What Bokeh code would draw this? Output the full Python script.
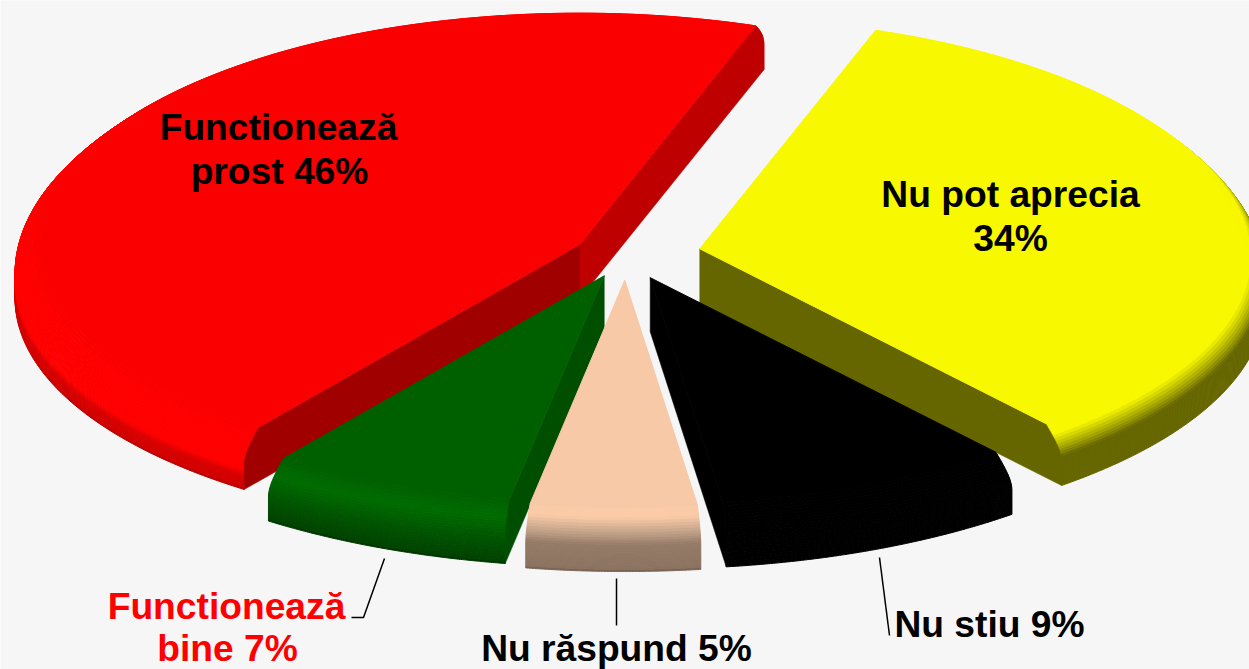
import numpy as np
from bokeh.plotting import figure
from bokeh.embed import file_html
from bokeh.resources import INLINE
from bokeh.core.properties import value

categories = ["Nu pot aprecia", "Nu stiu", "Nu răspund", "Functionează bine", "Functionează prost"]
shares = [34, 9, 5, 7.4, 45.6]
explode = [75, 60, 61, 55, 52]

top_colors = ["#F8F800", "#000000", "#F7C9A6", "#006000", "#FA0000"]
wall_start = ["#666600", "#000000", "#F7C9A6", "#004E00", "#A00000"]
wall_end = ["#666600", "#000000", "#F7C9A6", "#004E00", "#BF0000"]
band_stops = [
    [(0, "#F8F800"), (0.14, "#F8F800"), (0.46, "#666600"), (1, "#666600")],
    [(0, "#000000"), (1, "#000000")],
    [(0, "#FACBA6"), (0.12, "#FACBA6"), (0.3, "#C7A68C"), (0.5, "#957B67"), (0.95, "#8C7360"), (1, "#6E5A4C")],
    [(0, "#006000"), (0.2, "#006C00"), (0.55, "#005400"), (0.95, "#004200"), (1, "#003000")],
    [(0, "#FA0000"), (0.15, "#FF0000"), (0.62, "#FF0000"), (0.74, "#D80000"), (0.96, "#D00000"), (1, "#A80000")],
]

label_lines = ["Functionează", "prost 46%", "Nu pot aprecia", "34%", "Functionează", "bine 7%", "Nu răspund 5%", "Nu stiu 9%"]
label_x = [278, 279, 1010, 1010, 226, 227, 616, 989]
label_y = [126, 170, 193, 237, 605, 647, 647, 623]
label_colors = ["#000000", "#000000", "#000000", "#000000", "#FF0000", "#FF0000", "#000000", "#000000"]

leaders_x = [[384, 363, 351], [616, 616], [879, 889]]
leaders_y = [[558, 617, 617], [578, 625], [557, 635]]

# pie projection
CX, CY, R, H, D, START = 625.5, 254, 540, 54, 25, 19


def K(a):
    return 0.424 + 0.004 * np.cos(a)


def hexmix(stops, t):
    ts = [s[0] for s in stops]
    rgb = [[int(s[1][i:i + 2], 16) for s in stops] for i in (1, 3, 5)]
    return "#%02X%02X%02X" % tuple(int(round(np.interp(t, ts, c))) for c in rgb)


def profile(t):
    rad = R + D * np.sin(np.pi / 2 * min(t / 0.55, 1))
    return rad, H * t


p = figure(width=1249, height=669, x_range=(0, 1249), y_range=(669, 0),
           output_backend="svg", toolbar_location=None, min_border=0,
           background_fill_color="#F6F6F6", border_fill_color="#F6F6F6",
           outline_line_color=None, styles={"position": "absolute", "left": "0px", "top": "0px"})
p.axis.visible = False
p.grid.visible = False

total = sum(shares)
edges = START + np.cumsum([0] + shares) / total * 360
TS = np.linspace(0, 1, 27)


def draw(i):
    a0, a1 = edges[i], edges[i + 1]
    mid = np.radians((a0 + a1) / 2)
    ax = CX + explode[i] * np.sin(mid)
    ay = CY - explode[i] * np.cos(mid) * 0.422
    th = np.radians(np.linspace(a0, a1, 120))

    def ring(t):
        rad, z = profile(t)
        return ax + rad * np.sin(th), ay - K(th) * rad * np.cos(th) + z

    def wall(a, color):
        xs, ys = [ax], [ay]
        ar = np.radians(a)
        for t in TS:
            rad, z = profile(t)
            xs.append(ax + rad * np.sin(ar))
            ys.append(ay - K(ar) * rad * np.cos(ar) + z)
        xs.append(ax)
        ys.append(ay + H)
        p.patch(xs, ys, fill_color=color, line_color=color, line_width=0.5)

    for t0, t1 in reversed(list(zip(TS[:-1], TS[1:]))):
        x0, y0 = ring(t0)
        x1, y1 = ring(t1)
        c = hexmix(band_stops[i], (t0 + t1) / 2)
        p.patch(np.r_[x0, x1[::-1]], np.r_[y0, y1[::-1]], fill_color=c, line_color=c, line_width=1)
    # only the cut faces that turn towards the viewer are drawn
    if np.sin(np.radians(a0)) < 0:
        wall(a0, wall_start[i])
    if np.sin(np.radians(a1)) > 0:
        wall(a1, wall_end[i])
    x0, y0 = ring(0)
    p.patch(np.r_[ax, x0], np.r_[ay, y0], fill_color=top_colors[i], line_color=top_colors[i], line_width=1)


for i in [0, 4, 1, 3, 2]:
    draw(i)

p.multi_line(leaders_x, leaders_y, line_color="#000000", line_width=1.5)
p.text(label_x, label_y, text=label_lines, text_color=label_colors,
       text_font=value("Liberation Sans"), text_font_style="bold", text_font_size="37.2px",
       text_align="center", text_baseline="alphabetic")

open("out.html", "w").write(file_html(p, INLINE))
